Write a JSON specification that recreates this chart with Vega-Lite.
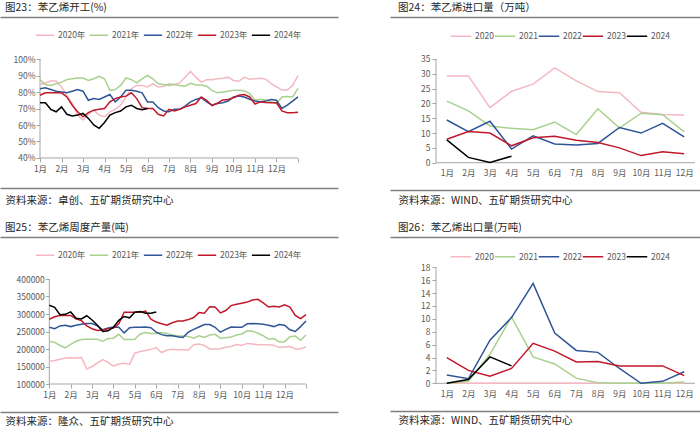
{
  "$schema": "https://vega.github.io/schema/vega-lite/v6.json",
  "padding": {"left": 0, "top": 3, "right": 0, "bottom": 0},
  "background": "white",
  "config": {
    "font": "Noto Sans CJK SC",
    "view": {"stroke": null},
    "axis": {"labelFont": "Noto Sans CJK SC", "labelFontSize": 8.5, "labelColor": "#595959", "domainColor": "#a6a6a6", "tickColor": "#a6a6a6", "grid": false, "title": null, "tickSize": 4, "labelOverlap": false, "labelFlush": false, "titleFont": "Noto Sans CJK SC", "titleFontSize": 10.5, "titleFontWeight": "normal", "titleColor": "#262626"},
    "legend": {"title": null, "symbolType": "stroke", "symbolStrokeWidth": 1.6, "symbolSize": 335, "labelFont": "Noto Sans CJK SC", "labelFontSize": 8.5, "labelColor": "#595959", "labelOffset": 3, "columnPadding": 0, "padding": 0, "direction": "horizontal", "orient": "none"},
    "title": {"font": "Noto Sans CJK SC", "fontSize": 10.5, "fontWeight": "normal", "color": "#262626", "anchor": "start", "frame": "group"},
    "line": {"strokeWidth": 1.5}
  },
  "datasets": {
    "op": [
      {"m":1,"2020年":84.5,"2021年":87.5,"2022年":82,"2023年":78,"2024年":73.5},
      {"m":1.25,"2020年":85.5,"2021年":84.5,"2022年":82.5,"2023年":79.5,"2024年":73.5},
      {"m":1.5,"2020年":86.7,"2021年":84,"2022年":81.5,"2023年":79.5,"2024年":69.5},
      {"m":1.75,"2020年":86.7,"2021年":85,"2022年":80.5,"2023年":79.5,"2024年":68},
      {"m":2,"2020年":83,"2021年":86,"2022年":80,"2023年":79.5,"2024年":71},
      {"m":2.25,"2020年":78,"2021年":87.5,"2022年":79.5,"2023年":77,"2024年":66.5},
      {"m":2.5,"2020年":73,"2021年":88,"2022年":80.5,"2023年":72,"2024年":65.5},
      {"m":2.75,"2020年":66,"2021年":88.5,"2022年":81.5,"2023年":68,"2024年":66},
      {"m":3,"2020年":63,"2021年":88.5,"2022年":80.5,"2023年":65,"2024年":67},
      {"m":3.25,"2020年":66.5,"2021年":87,"2022年":75,"2023年":67.5,"2024年":64},
      {"m":3.5,"2020年":69,"2021年":88,"2022年":76,"2023年":69,"2024年":60},
      {"m":3.75,"2020年":66,"2021年":89.5,"2022年":75.5,"2023年":69.5,"2024年":58},
      {"m":4,"2020年":65,"2021年":88,"2022年":77,"2023年":70,"2024年":61.5},
      {"m":4.25,"2020年":68,"2021年":81,"2022年":78.5,"2023年":74,"2024年":66},
      {"m":4.5,"2020年":69.5,"2021年":81.5,"2022年":74,"2023年":76,"2024年":67.5},
      {"m":4.75,"2020年":72,"2021年":84,"2022年":77,"2023年":77,"2024年":68.5},
      {"m":5,"2020年":77,"2021年":88.5,"2022年":81,"2023年":77.5,"2024年":71},
      {"m":5.25,"2020年":82,"2021年":87.5,"2022年":81,"2023年":79.5,"2024年":72},
      {"m":5.5,"2020年":84,"2021年":85.5,"2022年":80.5,"2023年":76,"2024年":70},
      {"m":5.75,"2020年":84,"2021年":88,"2022年":79.5,"2023年":70.5,"2024年":69.3},
      {"m":6,"2020年":83,"2021年":90,"2022年":74,"2023年":70,"2024年":70},
      {"m":6.25,"2020年":85,"2021年":88,"2022年":74,"2023年":70},
      {"m":6.5,"2020年":83,"2021年":85,"2022年":70.5,"2023年":66.5},
      {"m":6.75,"2020年":83.5,"2021年":84.5,"2022年":68.5,"2023年":65.5},
      {"m":7,"2020年":85,"2021年":84,"2022年":68,"2023年":69.5},
      {"m":7.25,"2020年":84.5,"2021年":84.5,"2022年":69.5,"2023年":68.5},
      {"m":7.5,"2020年":85.5,"2021年":84,"2022年":69.5,"2023年":69.5},
      {"m":7.75,"2020年":89,"2021年":83.5,"2022年":71.5,"2023年":71},
      {"m":8,"2020年":92.5,"2021年":85.3,"2022年":74,"2023年":72},
      {"m":8.25,"2020年":89,"2021年":84.2,"2022年":75.5,"2023年":73},
      {"m":8.5,"2020年":86,"2021年":84.3,"2022年":76.5,"2023年":77},
      {"m":8.75,"2020年":87.5,"2021年":83.5,"2022年":74,"2023年":75},
      {"m":9,"2020年":87.5,"2021年":81,"2022年":72,"2023年":71.8},
      {"m":9.25,"2020年":88,"2021年":79.5,"2022年":73,"2023年":73.2},
      {"m":9.5,"2020年":88.3,"2021年":80,"2022年":73.5,"2023年":75.2},
      {"m":9.75,"2020年":89,"2021年":80.5,"2022年":74.5,"2023年":75.5},
      {"m":10,"2020年":87,"2021年":81,"2022年":77,"2023年":76.5},
      {"m":10.25,"2020年":86.5,"2021年":81,"2022年":77.5,"2023年":78},
      {"m":10.5,"2020年":89,"2021年":80.8,"2022年":77,"2023年":78.5},
      {"m":10.75,"2020年":87.7,"2021年":79,"2022年":75.6,"2023年":77},
      {"m":11,"2020年":88,"2021年":75.2,"2022年":74.5,"2023年":72.7},
      {"m":11.25,"2020年":88.3,"2021年":75.5,"2022年":74,"2023年":74},
      {"m":11.5,"2020年":87.8,"2021年":75.2,"2022年":74.5,"2023年":73.7},
      {"m":11.75,"2020年":85,"2021年":74,"2022年":75.5,"2023年":73.5},
      {"m":12,"2020年":83.2,"2021年":73,"2022年":75,"2023年":73.5},
      {"m":12.25,"2020年":81.2,"2021年":77,"2022年":70,"2023年":68.5},
      {"m":12.5,"2020年":81.2,"2021年":77.2,"2022年":72,"2023年":67.5},
      {"m":12.75,"2020年":84,"2021年":77,"2022年":74.5,"2023年":67.5},
      {"m":13,"2020年":90,"2021年":82.2,"2022年":77,"2023年":67.8}
    ],
    "prod": [
      {"m":1,"2020年":165000,"2021年":222000,"2022年":262000,"2023年":285000,"2024年":325000},
      {"m":1.25,"2020年":167000,"2021年":219000,"2022年":258000,"2023年":292000,"2024年":319000},
      {"m":1.5,"2020年":171000,"2021年":210000,"2022年":266000,"2023年":296000,"2024年":298000},
      {"m":1.75,"2020年":174000,"2021年":203000,"2022年":268000,"2023年":296000,"2024年":299000},
      {"m":2,"2020年":175000,"2021年":213000,"2022年":264000,"2023年":296000,"2024年":306000},
      {"m":2.25,"2020年":174000,"2021年":222000,"2022年":268000,"2023年":286000,"2024年":288000},
      {"m":2.5,"2020年":176000,"2021年":227000,"2022年":271000,"2023年":281000,"2024年":286000},
      {"m":2.75,"2020年":143000,"2021年":228000,"2022年":273000,"2023年":266000,"2024年":295000},
      {"m":3,"2020年":150000,"2021年":228000,"2022年":273000,"2023年":258000,"2024年":283000},
      {"m":3.25,"2020年":160000,"2021年":228000,"2022年":266000,"2023年":253000,"2024年":268000},
      {"m":3.5,"2020年":170000,"2021年":222000,"2022年":255000,"2023年":254000,"2024年":250000},
      {"m":3.75,"2020年":162000,"2021年":230000,"2022年":260000,"2023年":258000,"2024年":252000},
      {"m":4,"2020年":151000,"2021年":231000,"2022年":263000,"2023年":260000,"2024年":262000},
      {"m":4.25,"2020年":157000,"2021年":242000,"2022年":262000,"2023年":272000,"2024年":282000},
      {"m":4.5,"2020年":159000,"2021年":227000,"2022年":246000,"2023年":305000,"2024年":293000},
      {"m":4.75,"2020年":156000,"2021年":227000,"2022年":261000,"2023年":305000,"2024年":289000},
      {"m":5,"2020年":188000,"2021年":228000,"2022年":262000,"2023年":305000,"2024年":305000},
      {"m":5.25,"2020年":193000,"2021年":243000,"2022年":262000,"2023年":305000,"2024年":307000},
      {"m":5.5,"2020年":196000,"2021年":247000,"2022年":263000,"2023年":308000,"2024年":302000},
      {"m":5.75,"2020年":199000,"2021年":244000,"2022年":261000,"2023年":285000,"2024年":302000},
      {"m":6,"2020年":204000,"2021年":244000,"2022年":248000,"2023年":277000,"2024年":306000},
      {"m":6.25,"2020年":190000,"2021年":247000,"2022年":241000,"2023年":272000},
      {"m":6.5,"2020年":197000,"2021年":244000,"2022年":238000,"2023年":268000},
      {"m":6.75,"2020年":199000,"2021年":240000,"2022年":238000,"2023年":275000},
      {"m":7,"2020年":198000,"2021年":237000,"2022年":235000,"2023年":280000},
      {"m":7.25,"2020年":198000,"2021年":237000,"2022年":233000,"2023年":280000},
      {"m":7.5,"2020年":197000,"2021年":236000,"2022年":248000,"2023年":284000},
      {"m":7.75,"2020年":212000,"2021年":231000,"2022年":256000,"2023年":290000},
      {"m":8,"2020年":214000,"2021年":238000,"2022年":263000,"2023年":304000},
      {"m":8.25,"2020年":210000,"2021年":233000,"2022年":270000,"2023年":302000},
      {"m":8.5,"2020年":200000,"2021年":240000,"2022年":270000,"2023年":321000},
      {"m":8.75,"2020年":200000,"2021年":242000,"2022年":262000,"2023年":320000},
      {"m":9,"2020年":201000,"2021年":231000,"2022年":248000,"2023年":303000},
      {"m":9.25,"2020年":205000,"2021年":232000,"2022年":256000,"2023年":310000},
      {"m":9.5,"2020年":207000,"2021年":234000,"2022年":263000,"2023年":324000},
      {"m":9.75,"2020年":213000,"2021年":240000,"2022年":262000,"2023年":328000},
      {"m":10,"2020年":210000,"2021年":243000,"2022年":262000,"2023年":331000},
      {"m":10.25,"2020年":216000,"2021年":252000,"2022年":272000,"2023年":334000},
      {"m":10.5,"2020年":214000,"2021年":251000,"2022年":273000,"2023年":340000},
      {"m":10.75,"2020年":212000,"2021年":245000,"2022年":272000,"2023年":342000},
      {"m":11,"2020年":212000,"2021年":238000,"2022年":271000,"2023年":332000},
      {"m":11.25,"2020年":212000,"2021年":228000,"2022年":268000,"2023年":320000},
      {"m":11.5,"2020年":211000,"2021年":230000,"2022年":264000,"2023年":322000},
      {"m":11.75,"2020年":204000,"2021年":220000,"2022年":270000,"2023年":320000},
      {"m":12,"2020年":206000,"2021年":221000,"2022年":268000,"2023年":326000},
      {"m":12.25,"2020年":207000,"2021年":235000,"2022年":255000,"2023年":320000},
      {"m":12.5,"2020年":200000,"2021年":237000,"2022年":250000,"2023年":296000},
      {"m":12.75,"2020年":201000,"2021年":225000,"2022年":264000,"2023年":287000},
      {"m":13,"2020年":206000,"2021年":240000,"2022年":280000,"2023年":298000}
    ],
    "imp": [
      {"m":1,"2020":29.3,"2021":20.8,"2022":14.4,"2023":7.9,"2024":7.7},
      {"m":2,"2020":29.3,"2021":17.5,"2022":10.5,"2023":10.5,"2024":1.8},
      {"m":3,"2020":18.6,"2021":12.4,"2022":14.0,"2023":10.0,"2024":0.1},
      {"m":4,"2020":24.1,"2021":11.6,"2022":4.6,"2023":5.7,"2024":2.2},
      {"m":5,"2020":26.5,"2021":11.1,"2022":9.1,"2023":8.4},
      {"m":6,"2020":32.0,"2021":13.7,"2022":6.3,"2023":8.9},
      {"m":7,"2020":27.6,"2021":9.5,"2022":6.0,"2023":7.6},
      {"m":8,"2020":24.0,"2021":18.2,"2022":6.5,"2023":6.8},
      {"m":9,"2020":23.6,"2021":11.7,"2022":11.9,"2023":5.0},
      {"m":10,"2020":17.0,"2021":16.7,"2022":10.0,"2023":2.4},
      {"m":11,"2020":16.3,"2021":16.2,"2022":13.3,"2023":3.7},
      {"m":12,"2020":16.1,"2021":10.4,"2022":8.7,"2023":3.0}
    ],
    "exp": [
      {"m":1,"2020":0,"2021":0,"2022":1.3,"2023":4.0,"2024":0},
      {"m":2,"2020":0,"2021":0.3,"2022":0.7,"2023":2.0,"2024":0.6},
      {"m":3,"2020":0,"2021":4.5,"2022":6.7,"2023":1.1,"2024":4.1},
      {"m":4,"2020":0,"2021":10.3,"2022":10.2,"2023":2.3,"2024":2.7},
      {"m":5,"2020":0,"2021":4.1,"2022":15.5,"2023":6.2},
      {"m":6,"2020":0,"2021":3.0,"2022":7.8,"2023":5.0},
      {"m":7,"2020":0,"2021":0.8,"2022":5.1,"2023":3.3},
      {"m":8,"2020":0,"2021":0.1,"2022":4.8,"2023":3.4},
      {"m":9,"2020":0,"2021":0,"2022":2.3,"2023":2.7},
      {"m":10,"2020":0,"2021":0,"2022":0,"2023":2.7},
      {"m":11,"2020":0,"2021":0,"2022":0.3,"2023":2.7},
      {"m":12,"2020":0,"2021":0.2,"2022":1.8,"2023":1.2}
    ]
  },
  "spacing": 17,
  "resolve": {"scale": {"color": "independent"}, "legend": {"color": "independent"}},
  "vconcat": [
    {
      "spacing": 52,
      "resolve": {"scale": {"color": "independent"}, "legend": {"color": "independent"}},
      "hconcat": [
        {
          "width": 338, "height": 171,
          "title": {"text": "图23：苯乙烯开工(%)", "dx": 5, "offset": 3.5},
          "resolve": {"axis": {"x": "independent", "y": "independent"}},
          "layer": [
            {"data": {"values": [{}]}, "mark": {"type": "rule", "color": "#a6a6a6", "strokeWidth": 1},
             "encoding": {"x": {"datum": 1, "scale": {"domain": [-0.8605, 14.8605], "nice": false, "zero": false}, "axis": {"orient": "top", "domain": true, "domainColor": "#7f7f7f", "domainWidth": 1.3, "ticks": false, "labels": false, "title": null}}, "x2": {"datum": 13}, "y": {"datum": 40, "scale": {"domain": [21.818, 125.455], "nice": false, "zero": false}, "axis": null}}},
            {"data": {"values": [{}]}, "mark": {"type": "rule", "color": "#a6a6a6", "strokeWidth": 1},
             "encoding": {"x": {"datum": 1, "axis": {"orient": "bottom", "domain": true, "domainColor": "#7f7f7f", "domainWidth": 1.3, "ticks": false, "labels": false, "title": "资料来源：卓创、五矿期货研究中心", "titleX": 5, "titleY": 12, "titleAlign": "left", "titleBaseline": "middle", "titleAngle": 0}}, "y": {"datum": 40, "axis": null}, "y2": {"datum": 100}}},
            {"data": {"name": "op"},
             "transform": [{"fold": ["2020年","2021年","2022年","2023年","2024年"], "as": ["year","v"]}, {"filter": "isValid(datum.v)"}],
             "mark": {"type": "line", "strokeWidth": 1.5},
             "encoding": {
               "x": {"field": "m", "type": "quantitative", "axis": {"orient": "bottom", "offset": -30, "domain": false, "values": [1,2,3,4,5,6,7,8,9,10,11,12,13], "labelExpr": "datum.value < 13 ? datum.value + '月' : ''", "labelPadding": 2}},
               "y": {"field": "v", "type": "quantitative", "axis": {"orient": "left", "offset": -40, "domain": false, "values": [40,50,60,70,80,90,100], "labelExpr": "datum.value + '%'", "labelPadding": 1}},
               "color": {"field": "year", "type": "nominal", "scale": {"domain": ["2020年","2021年","2022年","2023年","2024年"], "range": ["#F4B8C3","#A9D18E","#2F5597","#C0182A","#000000"]}, "legend": {"orient": "none", "legendX": 35, "legendY": 8, "direction": "horizontal"}}
             }}
          ]
        },
        {
          "width": 310, "height": 173,
          "title": {"text": "图24：苯乙烯进口量（万吨）", "dx": 8, "offset": 3.5},
          "resolve": {"axis": {"x": "independent", "y": "independent"}},
          "layer": [
            {"data": {"values": [{}]}, "mark": {"type": "rule", "color": "#a6a6a6", "strokeWidth": 1},
             "encoding": {"x": {"datum": 0.5, "scale": {"domain": [-1.6313, 12.732], "nice": false, "zero": false}, "axis": {"orient": "top", "domain": true, "domainColor": "#7f7f7f", "domainWidth": 1.3, "ticks": false, "labels": false, "title": null}}, "x2": {"datum": 12.5}, "y": {"datum": 0, "scale": {"domain": [-9.214, 49.175], "nice": false, "zero": false}, "axis": null}}},
            {"data": {"values": [{}]}, "mark": {"type": "rule", "color": "#a6a6a6", "strokeWidth": 1},
             "encoding": {"x": {"datum": 0.5, "axis": {"orient": "bottom", "domain": true, "domainColor": "#7f7f7f", "domainWidth": 1.3, "ticks": false, "labels": false, "title": "资料来源：WIND、五矿期货研究中心", "titleX": 8, "titleY": 10, "titleAlign": "left", "titleBaseline": "middle", "titleAngle": 0}}, "y": {"datum": 0, "axis": null}, "y2": {"datum": 35}}},
            {"data": {"name": "imp"},
             "transform": [{"fold": ["2020","2021","2022","2023","2024"], "as": ["year","v"]}, {"filter": "isValid(datum.v)"}],
             "mark": {"type": "line", "strokeWidth": 1.5},
             "encoding": {
               "x": {"field": "m", "type": "quantitative", "axis": {"orient": "bottom", "offset": -27.3, "domain": false, "ticks": false, "tickSize": 0, "values": [1,2,3,4,5,6,7,8,9,10,11,12], "labelExpr": "datum.value + '月'", "labelPadding": 6}},
               "y": {"field": "v", "type": "quantitative", "axis": {"orient": "left", "offset": -46, "domain": false, "values": [0,5,10,15,20,25,30,35], "labelPadding": 2}},
               "color": {"field": "year", "type": "nominal", "scale": {"domain": ["2020","2021","2022","2023","2024"], "range": ["#F4B8C3","#A9D18E","#2F5597","#C0182A","#000000"]}, "legend": {"orient": "none", "legendX": 60, "legendY": 8, "direction": "horizontal", "symbolSize": 420, "columnPadding": -5}}
             }}
          ]
        }
      ]
    },
    {
      "spacing": 52,
      "resolve": {"scale": {"color": "independent"}, "legend": {"color": "independent"}},
      "hconcat": [
        {
          "width": 338, "height": 175,
          "title": {"text": "图25：苯乙烯周度产量(吨)", "dx": 5, "offset": 3.5},
          "resolve": {"axis": {"x": "independent", "y": "independent"}},
          "layer": [
            {"data": {"values": [{}]}, "mark": {"type": "rule", "color": "#a6a6a6", "strokeWidth": 1},
             "encoding": {"x": {"datum": 1, "scale": {"domain": [-1.3048, 14.497], "nice": false, "zero": false}, "axis": {"orient": "top", "domain": true, "domainColor": "#7f7f7f", "domainWidth": 1.3, "ticks": false, "labels": false, "title": null}}, "x2": {"datum": 13}, "y": {"datum": 100000, "scale": {"domain": [20000, 520000], "nice": false, "zero": false}, "axis": null}}},
            {"data": {"values": [{}]}, "mark": {"type": "rule", "color": "#a6a6a6", "strokeWidth": 1},
             "encoding": {"x": {"datum": 1, "axis": {"orient": "bottom", "domain": true, "domainColor": "#7f7f7f", "domainWidth": 1.3, "ticks": false, "labels": false, "title": "资料来源：隆众、五矿期货研究中心", "titleX": 5, "titleY": 9.5, "titleAlign": "left", "titleBaseline": "middle", "titleAngle": 0}}, "y": {"datum": 100000, "axis": null}, "y2": {"datum": 400000}}},
            {"data": {"name": "prod"},
             "transform": [{"fold": ["2020年","2021年","2022年","2023年","2024年"], "as": ["year","v"]}, {"filter": "isValid(datum.v)"}],
             "mark": {"type": "line", "strokeWidth": 1.5},
             "encoding": {
               "x": {"field": "m", "type": "quantitative", "axis": {"orient": "bottom", "offset": -28, "domain": false, "values": [1,2,3,4,5,6,7,8,9,10,11,12,13], "labelExpr": "datum.value < 13 ? datum.value + '月' : ''", "labelPadding": 2}},
               "y": {"field": "v", "type": "quantitative", "axis": {"orient": "left", "offset": -49.3, "domain": false, "values": [100000,150000,200000,250000,300000,350000,400000], "format": "d", "labelPadding": 1}},
               "color": {"field": "year", "type": "nominal", "scale": {"domain": ["2020年","2021年","2022年","2023年","2024年"], "range": ["#F4B8C3","#A9D18E","#2F5597","#C0182A","#000000"]}, "legend": {"orient": "none", "legendX": 35, "legendY": 8, "direction": "horizontal"}}
             }}
          ]
        },
        {
          "width": 310, "height": 174,
          "title": {"text": "图26：苯乙烯出口量(万吨)", "dx": 8, "offset": 3.5},
          "resolve": {"axis": {"x": "independent", "y": "independent"}},
          "layer": [
            {"data": {"values": [{}]}, "mark": {"type": "rule", "color": "#a6a6a6", "strokeWidth": 1},
             "encoding": {"x": {"datum": 0.5, "scale": {"domain": [-1.6313, 12.732], "nice": false, "zero": false}, "axis": {"orient": "top", "domain": true, "domainColor": "#7f7f7f", "domainWidth": 1.3, "ticks": false, "labels": false, "title": null}}, "x2": {"datum": 12.5}, "y": {"datum": 0, "scale": {"domain": [-4.298, 22.702], "nice": false, "zero": false}, "axis": null}}},
            {"data": {"values": [{}]}, "mark": {"type": "rule", "color": "#a6a6a6", "strokeWidth": 1},
             "encoding": {"x": {"datum": 0.5, "axis": {"orient": "bottom", "domain": true, "domainColor": "#7f7f7f", "domainWidth": 1.3, "ticks": false, "labels": false, "title": "资料来源：WIND、五矿期货研究中心", "titleX": 8, "titleY": 9.7, "titleAlign": "left", "titleBaseline": "middle", "titleAngle": 0}}, "y": {"datum": 0, "axis": null}, "y2": {"datum": 18}}},
            {"data": {"name": "exp"},
             "transform": [{"fold": ["2020","2021","2022","2023","2024"], "as": ["year","v"]}, {"filter": "isValid(datum.v)"}],
             "mark": {"type": "line", "strokeWidth": 1.5},
             "encoding": {
               "x": {"field": "m", "type": "quantitative", "axis": {"orient": "bottom", "offset": -27.7, "domain": false, "ticks": false, "tickSize": 0, "values": [1,2,3,4,5,6,7,8,9,10,11,12], "labelExpr": "datum.value + '月'", "labelPadding": 6}},
               "y": {"field": "v", "type": "quantitative", "axis": {"orient": "left", "offset": -46, "domain": false, "values": [0,2,4,6,8,10,12,14,16,18], "labelPadding": 2}},
               "color": {"field": "year", "type": "nominal", "scale": {"domain": ["2020","2021","2022","2023","2024"], "range": ["#F4B8C3","#A9D18E","#2F5597","#C0182A","#000000"]}, "legend": {"orient": "none", "legendX": 60, "legendY": 8.5, "direction": "horizontal", "symbolSize": 420, "columnPadding": -5}}
             }}
          ]
        }
      ]
    }
  ]
}
